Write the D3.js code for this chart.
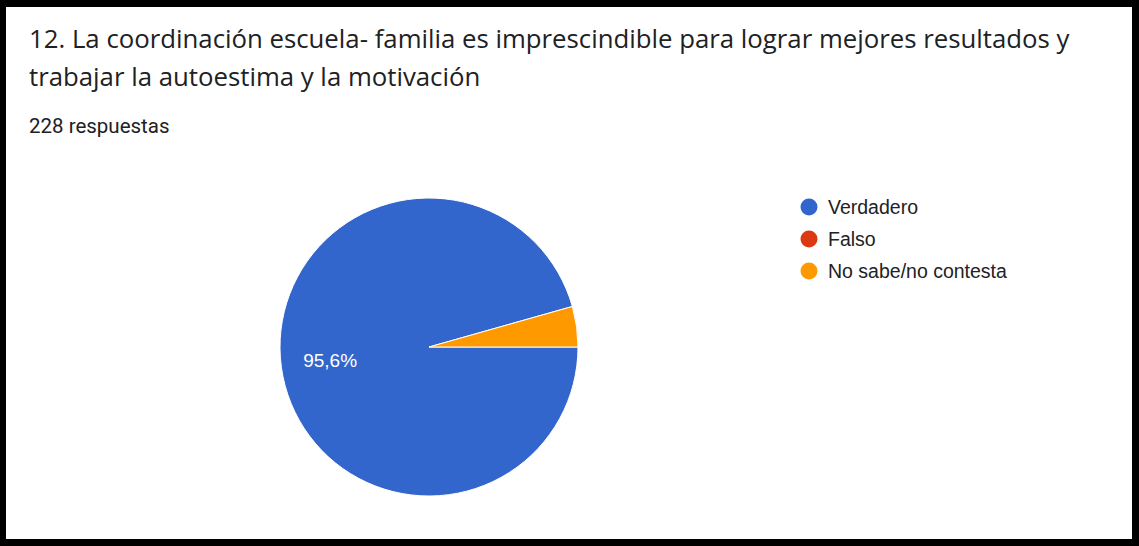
<!DOCTYPE html>
<html>
<head>
<meta charset="utf-8">
<script src="https://cdn.jsdelivr.net/npm/d3@7"></script>
<style>
  html, body { margin: 0; padding: 0; background: #000; }
  svg { display: block; }
</style>
</head>
<body>
<div id="chart-area"></div>
<script>
const titleLines = [
    "12. La coordinación escuela- familia es imprescindible para lograr mejores resultados y",
    "trabajar la autoestima y la motivación"
];
const subtitle = "228 respuestas";

const categories = ["Verdadero", "Falso", "No sabe/no contesta"];
const counts = [218, 0, 10];
const colors = ["#3366cc", "#dc3912", "#ff9900"];

const chartSize = {width: 1139, height: 546};
const border = {left: 6, top: 7, right: 7, bottom: 7};
const pieCenter = {x: 429, y: 347};
const radius = 149;
const titleWidth = 1041;

const drawChart = () => {
    const svg = d3.select("#chart-area")
        .append("svg")
        .attr("width", chartSize.width)
        .attr("height", chartSize.height);

    svg.append("rect")
        .attr("width", chartSize.width)
        .attr("height", chartSize.height)
        .attr("fill", "#000");

    svg.append("rect")
        .attr("x", border.left)
        .attr("y", border.top)
        .attr("width", chartSize.width - border.left - border.right)
        .attr("height", chartSize.height - border.top - border.bottom)
        .attr("fill", "#fff");

    const title = svg.selectAll(".title-line").data(titleLines)
        .enter().append("text")
        .attr("class", "title-line")
        .attr("x", 29)
        .attr("y", (d, i) => 48 + i * 38)
        .attr("font-family", "'Open Sans', Roboto, sans-serif")
        .attr("font-size", 24)
        .attr("fill", "#202124")
        .text(d => d);

    // size the title so the first line runs as wide as in the screenshot
    const w = title.node().getComputedTextLength();
    title.attr("font-size", 24 * titleWidth / w);

    svg.append("text")
        .attr("x", 29)
        .attr("y", 133)
        .attr("font-family", "Roboto, sans-serif")
        .attr("font-size", 20.5)
        .attr("fill", "#202124")
        .text(subtitle);

    const data = categories.map((name, i) => ({name, value: counts[i], color: colors[i]}));
    const total = d3.sum(counts);

    // google forms starts this pie at 3 o'clock, going clockwise
    const pie = d3.pie()
        .value(d => d.value)
        .sort(null)
        .startAngle(Math.PI / 2)
        .endAngle(Math.PI / 2 + 2 * Math.PI);

    const arc = d3.arc().innerRadius(0).outerRadius(radius);

    const pieG = svg.append("g")
        .attr("transform", `translate(${pieCenter.x}, ${pieCenter.y})`);

    pieG.selectAll("path").data(pie(data).filter(d => d.data.value > 0))
        .enter().append("path")
        .attr("d", arc)
        .attr("fill", d => d.data.color)
        .attr("stroke", "#fff")
        .attr("stroke-width", 1);

    const fmt = v => (v * 100).toFixed(1).replace(".", ",") + "%";
    const labelArc = d3.arc().innerRadius(radius * 0.67).outerRadius(radius * 0.67);

    pieG.selectAll(".slice-label").data(pie(data).filter(d => d.data.value / total > 0.05))
        .enter().append("text")
        .attr("class", "slice-label")
        .attr("transform", d => `translate(${labelArc.centroid(d)})`)
        .attr("text-anchor", "middle")
        .attr("dy", "0.35em")
        .attr("font-family", "'Liberation Sans', Arial, sans-serif")
        .attr("font-size", 19)
        .attr("fill", "#fff")
        .text(d => fmt(d.data.value / total));

    const legend = svg.append("g").attr("transform", "translate(809, 207)");
    const rows = legend.selectAll("g").data(data)
        .enter().append("g")
        .attr("transform", (d, i) => `translate(0, ${i * 32})`);

    rows.append("circle")
        .attr("r", 8.5)
        .attr("fill", d => d.color);

    rows.append("text")
        .attr("x", 19)
        .attr("dy", "0.35em")
        .attr("font-family", "'Liberation Sans', Arial, sans-serif")
        .attr("font-size", 19.5)
        .attr("fill", "#222")
        .text(d => d.name);
};

drawChart();
</script>
</body>
</html>
